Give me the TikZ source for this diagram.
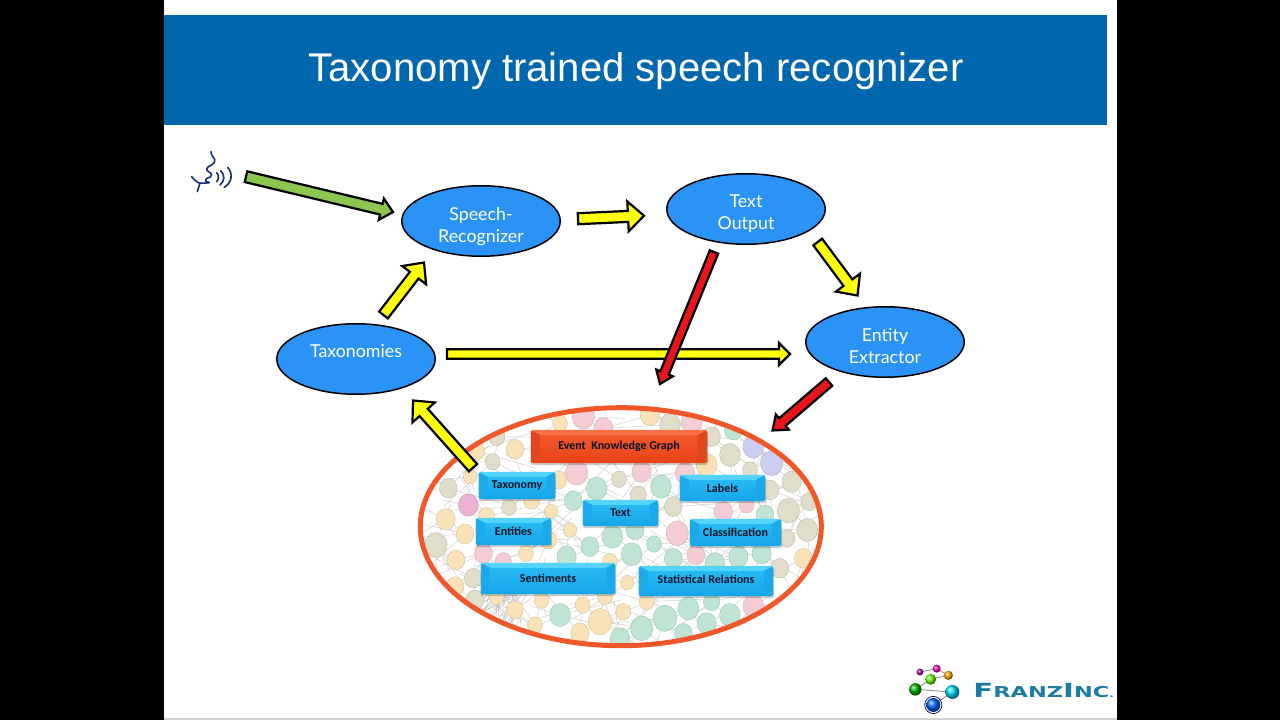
\documentclass[tikz,border=0pt]{standalone}
\usepackage{fontspec}
\setmainfont{Lato}
\newfontfamily\titlefont{Liberation Sans}
\newfontfamily\btnfont{Carlito}
\newfontfamily\logofont{DejaVu Sans}
\usetikzlibrary{calc,shapes.geometric}
\definecolor{titleblue}{RGB}{0,103,174}
\definecolor{ovalblue}{RGB}{43,147,245}
\definecolor{arrowyellow}{RGB}{255,255,10}
\definecolor{arrowred}{RGB}{232,22,28}
\definecolor{arrowgreen}{RGB}{140,198,80}
\definecolor{graphring}{RGB}{240,88,42}
\definecolor{bt}{RGB}{249,226,184}
\definecolor{bg}{RGB}{190,228,211}
\definecolor{bp}{RGB}{243,205,211}
\definecolor{by}{RGB}{224,221,202}
\definecolor{bb}{RGB}{203,206,238}
\definecolor{bm}{RGB}{236,178,212}
\definecolor{btntext}{RGB}{10,20,40}
\definecolor{iconblue}{RGB}{24,44,128}
\definecolor{logoteal}{RGB}{28,124,164}
\definecolor{blueband}{RGB}{84,212,250}
\definecolor{bluetop}{RGB}{44,190,245}
\definecolor{bluebot}{RGB}{20,166,232}
\definecolor{blueside}{RGB}{26,170,236}
\definecolor{redband}{RGB}{250,112,70}
\definecolor{redtop}{RGB}{244,90,44}
\definecolor{redbot}{RGB}{232,66,24}
\definecolor{redside}{RGB}{226,70,30}
\tikzset{
  oval/.style={ellipse,draw=black,line width=1.5pt,fill=ovalblue,
    minimum width=158.5pt,minimum height=70.5pt,inner sep=0pt},
  ovaltext/.style={text=white,inner sep=0pt,align=center,font=\fontsize{17.8}{22}\selectfont},
  btnlabel/.style={text=btntext,font=\btnfont\bfseries\fontsize{12}{14}\selectfont},
  arrowline/.style={draw=black,line width=2.2pt,miter limit=6,line join=miter},
}
% block arrow between two named coordinates: name, colour, tail, tip, shaft, head, head length
\newcommand\blockarrow[7]{%
  \coordinate (#1t) at (#3);
  \coordinate (#1p) at (#4);
  \pgfmathsetmacro\sw{#5/2}\pgfmathsetmacro\hw{#6/2}%
  \coordinate (#1b) at ($(#1p)!#7pt!(#1t)$);
  \draw[arrowline,fill=#2]
    ($(#1t)!\sw pt!90:(#1p)$) -- ($(#1b)!\sw pt!-90:(#1t)$) -- ($(#1b)!\hw pt!-90:(#1t)$)
    -- (#1p) -- ($(#1b)!\hw pt!90:(#1t)$) -- ($(#1b)!\sw pt!90:(#1t)$)
    -- ($(#1t)!\sw pt!-90:(#1p)$) -- cycle;
}
% bevelled button: name, centre, width, height, text, band, top, bottom, side
\newcommand\bevelbtn[9]{%
  \fill[black,opacity=.2,rounded corners=2pt] ($(#2)+(-#3/2-.5,-#4/2+2)$) rectangle ($(#2)+(#3/2+1,#4/2+2)$);
  \node[rectangle,rounded corners=2pt,minimum width=#3pt,minimum height=#4pt,inner sep=0pt,
        top color=#7,bottom color=#8] (#1) at (#2) {};
  \fill[#6] ([xshift=1pt]#1.north west) -- ([xshift=-1pt]#1.north east)
     -- ([xshift=-9pt,yshift=-5pt]#1.north east) -- ([xshift=9pt,yshift=-5pt]#1.north west) -- cycle;
  \fill[#9] ([yshift=-1pt]#1.north west) -- ([xshift=9pt,yshift=-5pt]#1.north west)
     -- ([xshift=9pt,yshift=3pt]#1.south west) -- ([yshift=1pt]#1.south west) -- cycle;
  \fill[#9] ([yshift=-1pt]#1.north east) -- ([xshift=-9pt,yshift=-5pt]#1.north east)
     -- ([xshift=-9pt,yshift=3pt]#1.south east) -- ([yshift=1pt]#1.south east) -- cycle;
  \node[btnlabel] at (#1.center) {#5};
}
\newcommand\bluebtn[5]{\bevelbtn{#1}{#2}{#3}{#4}{#5}{blueband}{bluetop}{bluebot}{blueside}}
\newcommand\redbtn[5]{\bevelbtn{#1}{#2}{#3}{#4}{#5}{redband}{redtop}{redbot}{redside}}
\def\bublist{550/80/30/bp,480/100/20/bt,610/115/26/bp,750/75/26/bt,810/105/28/by,875/95/28/bp,935/140/24/by,1000/120/24/bg,1060/170/28/bb,1115/220/30/bb,990/195/28/by,1050/240/20/by,1175/275/26/by,1228/335/22/by,1165/362/30/by,1222/420/28/by,1160/445/22/by,1210/505/24/bt,1140/535/24/by,1060/648/28/bp,990/675/28/bg,920/700/26/bg,935/635/22/bg,865/655/28/bg,795/685/32/bg,725/715/30/bg,850/730/24/bg,660/745/26/bg,600/695/32/bt,670/665/20/bt,540/730/25/bt,480/675/28/bg,548/645/20/bt,425/630/20/bt,405/705/20/bt,345/660/22/bt,225/630/24/by,165/590/24/bt,220/565/24/by,168/510/24/bt,108/465/30/by,195/432/24/bt,137/388/26/bt,205/345/27/bm,145/295/24/by,210/260/18/bt,278/215/20/by,345/178/24/bt,290/140/22/by,230/183/22/bt,530/248/30/bp,590/296/28/bg,657/268/20/by,725/245/26/bp,783/290/28/bg,855/250/26/bp,920/225/28/bt,520/332/24/bg,453/365/18/bt,327/352/20/by,395/330/22/bt,475/270/22/bt,715/315/22/by,820/350/24/by,970/365/25/bp,1040/345/20/bp,1110/300/24/by,1095/375/24/bg,832/430/30/bp,705/420/24/bg,637/440/28/bg,510/420/18/bt,260/380/22/bt,570/470/24/bg,762/462/20/bg,695/493/28/bg,500/500/26/bg,630/515/20/bt,445/450/22/bt,378/490/20/bt,250/490/24/bp,310/515/22/bp,820/505/24/bg,888/495/24/bp,945/520/26/bg,1015/500/26/bg,1085/490/26/bg,682/578/18/bt,740/635/20/bt,615/620/20/bt,290/620/20/bt}
\begin{document}
\begin{tikzpicture}[x=1pt,y=-1pt]
\useasboundingbox (0,0) rectangle (1280,720);
\fill[black] (0,0) rectangle (1280,720);
\fill[white] (164,0) rectangle (1117,720);
\fill[black!18] (164,718) rectangle (1117,720);
\node[rectangle,fill=titleblue,minimum width=943pt,minimum height=110pt,inner sep=0pt] (title) at (635.5,69.5) {};
\node[text=white,font=\titlefont\fontsize{40.1}{44}\selectfont] (titletext) at (636,71) {Taxonomy trained speech recognizer};
% speech icon
\begin{scope}[shift={(170,130)},x=0.3333pt,y=-0.3333pt]
  \draw[iconblue,line width=1.6pt,line cap=round,line join=round]
    (123,65) .. controls (122,80) and (140,85) .. (133,97) .. controls (128,107) and (110,108) .. (110,118)
    .. controls (110,126) and (126,126) .. (124,136) .. controls (122,146) and (110,140) .. (107,150)
    .. controls (104,158) and (118,154) .. (118,158) .. controls (105,160) and (92,160) .. (85,158)
    .. controls (78,155) and (72,148) .. (65,140);
  \draw[iconblue,line width=1.6pt,line cap=round] (90,159) -- (82,185);
  \draw[iconblue,line width=1.6pt,line cap=round] (140,128) .. controls (147,135) and (147,148) .. (140,155);
  \draw[iconblue,line width=1.6pt,line cap=round] (152,122) .. controls (165,135) and (165,152) .. (150,165);
  \draw[iconblue,line width=1.6pt,line cap=round] (173,112) .. controls (190,130) and (186,158) .. (163,172);
\end{scope}
% background graph inside the large ellipse
\begin{scope}
  \clip (620.8,526.7) ellipse [x radius=201pt,y radius=120pt];
  \fill[white] (400,390) rectangle (840,660);
  \begin{scope}[shift={(400,390)},x=0.3333pt,y=-0.3333pt]
    \pgfmathsetseed{11}
    \foreach \bx/\by/\br/\bc in \bublist {
      \foreach \k in {1,2,3,4} {
        \pgfmathsetmacro\dx{rand*190}\pgfmathsetmacro\dy{rand*140}
        \draw[black!18,line width=.5pt] (\bx,\by) -- (\bx+\dx,\by+\dy);
      }
    }
    \foreach \k in {1,...,30} {
      \pgfmathsetmacro\ax{280+rand*90}\pgfmathsetmacro\ay{700+rand*40}
      \pgfmathsetmacro\dx{330+rand*80}\pgfmathsetmacro\dy{590+rand*40}
      \draw[black!24,line width=.5pt] (\ax,\ay) -- (\dx,\dy);
    }
    \foreach \bx/\by/\br/\bc in \bublist {
      \fill[\bc,draw=\bc!85!black,line width=.4pt] (\bx,\by) ellipse [x radius=\br*0.37pt,y radius=\br*0.41pt];
    }
  \end{scope}
\end{scope}
\node[ellipse,draw=graphring,line width=5pt,minimum width=401pt,minimum height=238pt,inner sep=0pt] (graph) at (620.8,526.7) {};
% ovals
\node[oval] (speech) at (481,221) {};
\node[oval] (textout) at (746,209) {};
\node[oval] (entity) at (885,342) {};
\node[oval] (taxo) at (356,359) {};
\node[ovaltext] (speechl) at (481,226.5) {Speech-\\Recognizer};
\node[ovaltext] (textoutl) at (746,214) {Text\\Output};
\node[ovaltext] (entityl) at (885,346) {Entity\\Extractor};
\node[ovaltext] (taxol) at (356,351) {Taxonomies};
% buttons
\redbtn{ekg}{619,446.5}{176}{33}{Event\ \ Knowledge Graph}
\bluebtn{btax}{517,485.5}{76}{27}{Taxonomy}
\bluebtn{blab}{722.5,488}{85}{26}{Labels}
\bluebtn{btext}{620.5,513}{75}{26}{Text}
\bluebtn{bent}{513.5,531.5}{75}{27}{Entities}
\bluebtn{bcla}{735.5,532.5}{91}{27}{Classification}
\bluebtn{bsen}{548,578.5}{134}{31}{\raisebox{1pt}{Sentiments}}
\bluebtn{bsta}{706,581}{134}{30}{\raisebox{2.5pt}{Statistical Relations}}
% block arrows
\blockarrow{a1}{arrowgreen}{246,176.7}{393,212}{11}{22}{12}
\blockarrow{a2}{arrowyellow}{578,218.7}{644,215.7}{11}{30}{16}
\blockarrow{a3}{arrowyellow}{383.5,315}{424,262.5}{11}{30}{16}
\blockarrow{a4}{arrowyellow}{817.7,242}{857.5,295.5}{11}{30}{16}
\blockarrow{a5}{arrowyellow}{447,354}{790,354}{9.5}{22}{11}
\blockarrow{a6}{arrowred}{714,252}{660,384}{9}{18}{12}
\blockarrow{a7}{arrowred}{829,382}{772.5,430.5}{10}{20}{13}
\blockarrow{a8}{arrowyellow}{473,467.7}{413,400.5}{11}{30}{16}
% logo
\begin{scope}[shift={(900,660)},x=0.3333pt,y=-0.3333pt]
  \coordinate (l1) at (60,36); \coordinate (l2) at (110,26); \coordinate (l3) at (145,46);
  \coordinate (l4) at (92,58); \coordinate (l5) at (46,88); \coordinate (l6) at (157,96); \coordinate (l7) at (100,135);
  \draw[black!45,line width=.8pt] (l1) -- (l2) -- (l3) -- (l4) -- (l5) -- (l6) -- (l7);
  \shade[ball color=violet!70!magenta] (l1) circle (3.4pt);
  \shade[ball color=magenta!70!red] (l2) circle (4pt);
  \shade[ball color=orange!70!yellow] (l3) circle (4.6pt);
  \shade[ball color=lime!50!green] (l4) circle (5.5pt);
  \shade[ball color=green!70!black] (l5) circle (6.2pt);
  \shade[ball color=cyan!85!blue] (l6) circle (7pt);
  \draw[black!60!blue,line width=.7pt] (l7) circle (8.6pt);
  \shade[ball color=cyan!40!blue] (l7) circle (7pt);
\end{scope}
\node[anchor=base west,inner sep=0pt,text=logoteal,xscale=1.5,
      font=\logofont\bfseries\fontsize{19.5}{20}\selectfont] (logo) at (973,697)
  {F{\fontsize{15}{15}\selectfont RANZ}I{\fontsize{15}{15}\selectfont NC}{\fontsize{8}{9}\selectfont .}};
\end{tikzpicture}
\end{document}
